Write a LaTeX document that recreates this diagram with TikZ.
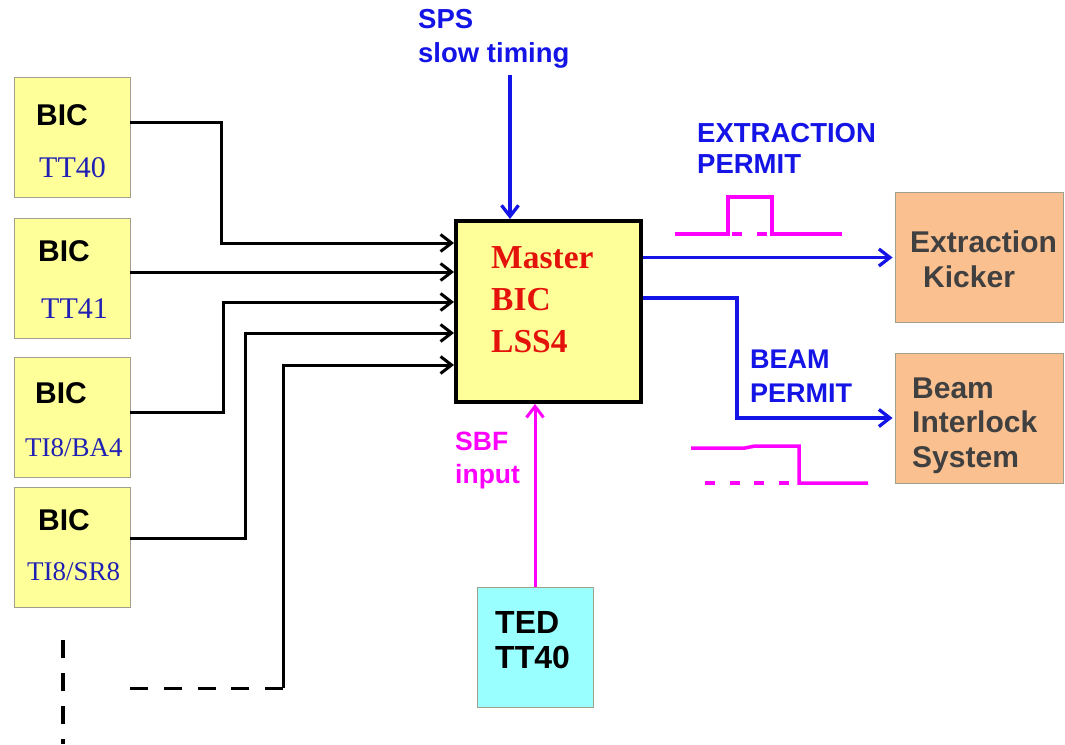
\documentclass[tikz,border=0pt]{standalone}
\usepackage{fontspec}
\setmainfont{Liberation Serif}
\setsansfont{Liberation Sans}
\usepackage{tikz}
\usetikzlibrary{arrows.meta, positioning}

\definecolor{bicyellow}{HTML}{FFFF99}
\definecolor{boxedge}{HTML}{A0A08C}
\definecolor{outorange}{HTML}{FAC090}
\definecolor{tedcyan}{HTML}{99FFFF}
\definecolor{sigblue}{HTML}{1414E6}
\definecolor{labblue}{HTML}{2020B4}
\definecolor{masterred}{HTML}{E3120B}
\definecolor{outtext}{HTML}{404040}
\definecolor{sbfpink}{HTML}{FF00FF}

\begin{document}
\begin{tikzpicture}[x=1pt, y=-1pt,
  box/.style={draw=boxedge, line width=0.8pt, inner sep=0pt},
  bicbox/.style={box, fill=bicyellow, minimum width=116pt, minimum height=120pt},
  outbox/.style={box, fill=outorange, minimum width=168pt, minimum height=130pt},
  txt/.style={inner sep=0pt, anchor=base west, align=left},
  bold/.style={txt, font=\sffamily\bfseries\fontsize{#1}{#1}\selectfont},
  serif/.style={txt, text=labblue, font=\rmfamily\fontsize{#1}{#1}\selectfont},
  conn/.style={line width=3pt, -{Straight Barb[length=11pt, width=17pt]}},
  sig/.style={conn, draw=sigblue, line width=3.3pt},
  pulse/.style={sbfpink, line width=3.5pt}]
  \useasboundingbox (0,0) rectangle (1065,744);

  % source BICs
  \node[bicbox] (bicA) at (72,137) {};
  \node[bicbox] (bicB) at (72,278) {};
  \node[bicbox] (bicC) at (72,417.5) {};
  \node[bicbox] (bicD) at (72,547.5) {};
  \node[bold=30] (bicAname) at (36,125) {BIC};
  \node[serif=30] (bicAloc) at (39,177) {TT40};
  \node[bold=30] (bicBname) at (38,261) {BIC};
  \node[serif=30] (bicBloc) at (41,318) {TT41};
  \node[bold=30] (bicCname) at (35,403) {BIC};
  \node[serif=27] (bicCloc) at (25,456) {TI8/BA4};
  \node[bold=30] (bicDname) at (38,530) {BIC};
  \node[serif=27] (bicDloc) at (27,580) {TI8/SR8};

  % master and outputs (multi-line texts sit on their last baseline)
  \node[draw, line width=4pt, fill=bicyellow, minimum width=185pt, minimum height=181pt] (master) at (548.5,311.5) {};
  \node[txt, text=masterred, font=\rmfamily\bfseries\fontsize{33.5}{42}\selectfont] (mastertxt) at (491,352) {Master\\BIC\\LSS4};
  \node[outbox] (kicker) at (979,257.5) {};
  \node[outbox] (bis) at (979,418) {};
  \node[bold=30, text=outtext, font=\sffamily\bfseries\fontsize{30}{35}\selectfont] (kickertxt) at (910,287) {Extraction\\\hspace*{13pt}Kicker};
  \node[bold=30, text=outtext, font=\sffamily\bfseries\fontsize{30}{34.5}\selectfont] (bistxt) at (912,467) {Beam\\Interlock\\System};
  \node[box, fill=tedcyan, minimum width=116pt, minimum height=120pt] (ted) at (535,647) {};
  \node[bold=32, font=\sffamily\bfseries\fontsize{32}{35}\selectfont] (tedtxt) at (495,668) {TED\\TT40};

  % signal labels
  \node[bold=27, text=sigblue, font=\sffamily\bfseries\fontsize{27.5}{34}\selectfont] (sps) at (418,62) {SPS\\slow timing};
  \node[bold=27, text=sigblue, font=\sffamily\bfseries\fontsize{27.5}{31}\selectfont] (extr) at (697,173) {EXTRACTION\\PERMIT};
  \node[bold=27, text=sigblue, font=\sffamily\bfseries\fontsize{27}{34}\selectfont] (beam) at (750,402) {BEAM\\PERMIT};
  \node[bold=26, text=sbfpink, font=\sffamily\bfseries\fontsize{26.5}{33}\selectfont] (sbf) at (455,483) {SBF\\input};

  % inputs to the master
  \draw[conn] ([yshift=15pt]bicA.east) -| (221,243) -- ([yshift=68.5pt]master.west);
  \draw[conn] ([yshift=6pt]bicB.east) -- ([yshift=39.5pt]master.west);
  \draw[conn] ([yshift=5.5pt]bicC.east) -| (223,302) -- ([yshift=9.5pt]master.west);
  \draw[conn] ([yshift=9.5pt]bicD.east) -| (245,333) -- ([yshift=-21.5pt]master.west);
  \coordinate (more) at (130,688);
  \coordinate (morecorner) at (283,688);
  \draw[line width=3pt, dash pattern=on 18pt off 15.75pt] (morecorner) -- (more);
  \draw[conn] (morecorner) -- (283,365) -- ([yshift=-53.5pt]master.west);
  \coordinate (dotstop) at (63,640);
  \coordinate (dotsbot) at (63,744);
  \draw[line width=3.5pt, dash pattern=on 18pt off 15pt] (dotstop) -- (dotsbot);

  % timing, SBF and permits
  \draw[sig] ([xshift=-38.5pt]master.north |- 0,75) -- ([xshift=-38.5pt]master.north);
  \draw[conn, draw=sbfpink] (ted.north) -- (master.south -| ted.north);
  \draw[sig, shorten >=2pt] (master.east |- kicker.west) -- (kicker.west);
  \draw[sig, shorten >=2pt] ([yshift=13.5pt]master.east) -- ++(94,0) |- (bis.west);

  % pulses
  \draw[pulse] (675,234) -- (728,234) -- (728,197) -- (772,197) -- (772,234) -- (842,234);
  \draw[pulse, dash pattern=on 10pt off 15pt] (732,234) -- (767,234);
  \draw[pulse] (691,448) -- (745,448) -- (755,446) -- (799,446) -- (799,483) -- (868,483);
  \draw[pulse, dash pattern=on 10pt off 14.5pt] (705,483) -- (799,483);
\end{tikzpicture}
\end{document}
